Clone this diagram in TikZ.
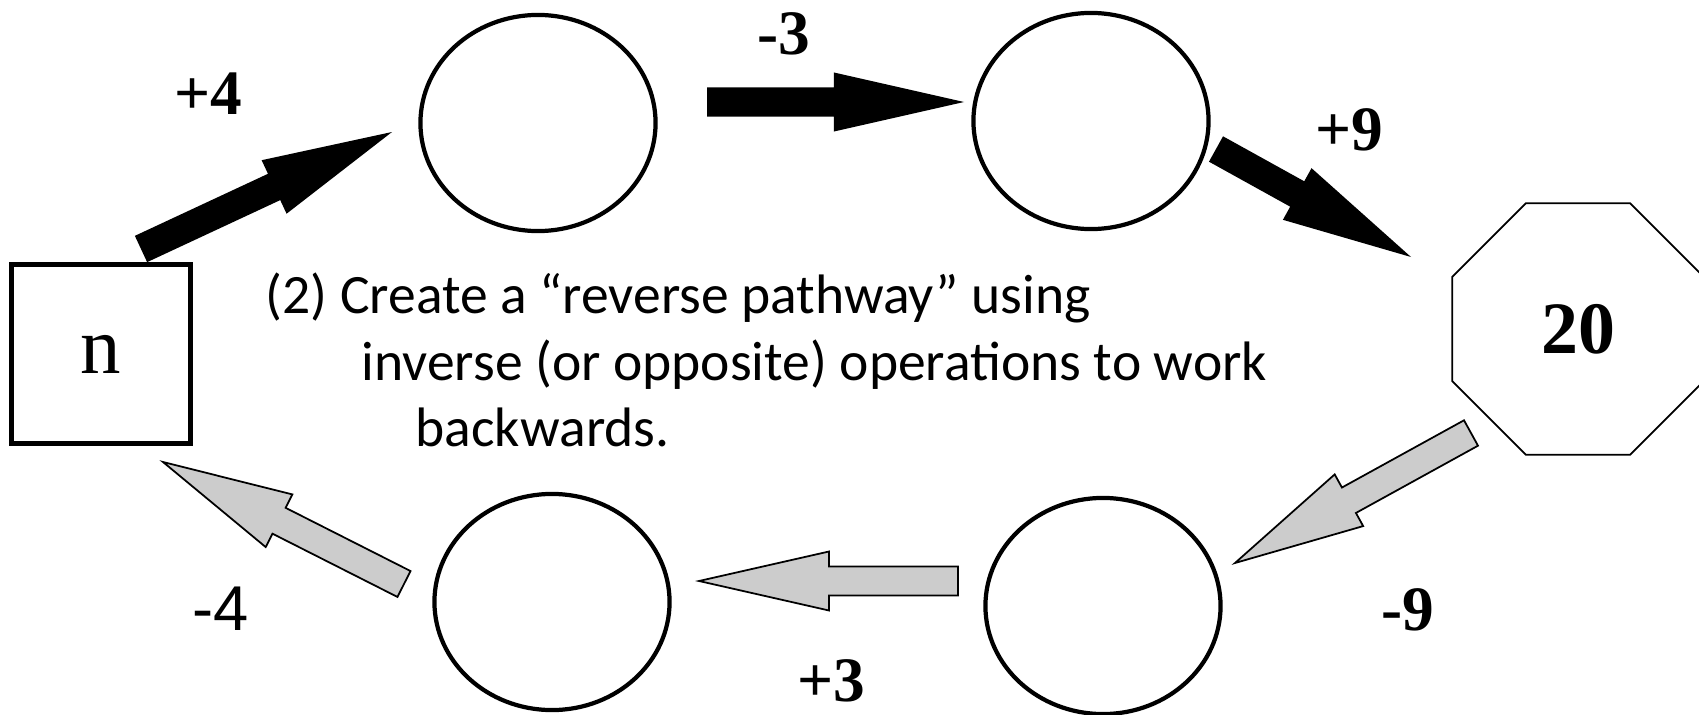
\documentclass[tikz,border=0pt]{standalone}
\usepackage{fontspec}
\setmainfont{Liberation Serif}
\newfontfamily\handfont{Carlito}
\newfontfamily\arialfont{Liberation Sans}
\usetikzlibrary{shapes.geometric,calc}

% block arrow: style, from, to
\newcommand\blockarr[3]{%
  \coordinate (hb) at ($(#3)!1.3cm!(#2)$);
  \path[#1] ($(#2)!1.45mm!90:(#3)$) -- ($(hb)!1.45mm!90:(#3)$)
    -- ($(hb)!2.95mm!90:(#3)$) -- (#3) -- ($(hb)!2.95mm!-90:(#3)$)
    -- ($(hb)!1.45mm!-90:(#3)$) -- ($(#2)!1.45mm!-90:(#3)$) -- cycle;
}

\begin{document}
\begin{tikzpicture}[x=0.01cm,y=-0.01cm,
  oval/.style={draw,ellipse,line width=1.2pt,minimum width=2.35cm,minimum height=2.16cm},
  start/.style={draw,line width=1.4pt,minimum size=1.78cm,font=\fontsize{23}{23}\selectfont},
  goal/.style={draw,regular polygon,regular polygon sides=8,minimum size=2.72cm,line width=0.5pt,
    font=\bfseries\fontsize{21}{21}\selectfont},
  oplabel/.style={font=\bfseries\fontsize{18}{18}\selectfont},
  fwdarr/.style={fill=black},
  backarr/.style={fill=black!20,draw=black,line width=0.5pt},
  note/.style={anchor=base west,inner sep=0pt,font=\handfont\fontsize{15.8}{15.8}\selectfont},
  ]
\useasboundingbox (0,0) rectangle (1699,715);

\node[start] (n) at (101,354) {n};
\node[oval] (c1) at (538,123) {};
\node[oval] (c2) at (1091,121) {};
\node[goal] (oct) at (1578,329) {20};
\node[oval] (c3) at (1103,606) {};
\node[oval] (c4) at (552,602) {};

% forward pathway
\coordinate (s1) at (141,249); \coordinate (e1) at (392,132);
\coordinate (s2) at (707,102); \coordinate (e2) at (964,102);
\coordinate (s3) at (1216,149); \coordinate (e3) at (1411,257);
\blockarr{fwdarr}{s1}{e1}
\blockarr{fwdarr}{s2}{e2}
\blockarr{fwdarr}{s3}{e3}

% reverse pathway
\coordinate (s4) at (1471,433); \coordinate (e4) at (1235,563);
\coordinate (s5) at (958,581); \coordinate (e5) at (699,581);
\coordinate (s6) at (404,584); \coordinate (e6) at (163,462);
\blockarr{backarr}{s4}{e4}
\blockarr{backarr}{s5}{e5}
\blockarr{backarr}{s6}{e6}

\node[oplabel] (l1) at (208,94) {+4};
\node[oplabel] (l2) at (784,34) {-3};
\node[oplabel] (l3) at (1349,130) {+9};
\node[oplabel] (l4) at (1408,610) {-9};
\node[oplabel] (l5) at (831,681) {+3};
\node[font=\arialfont\fontsize{18}{18}\selectfont] (l6) at (221,609) {-4};

\node[note] (t1) at (265,313) {(2) Create a “reverse pathway” using};
\node[note] (t2) at (361,380) {inverse (or opposite) operations to work};
\node[note] (t3) at (415,446) {backwards.};

\end{tikzpicture}
\end{document}
